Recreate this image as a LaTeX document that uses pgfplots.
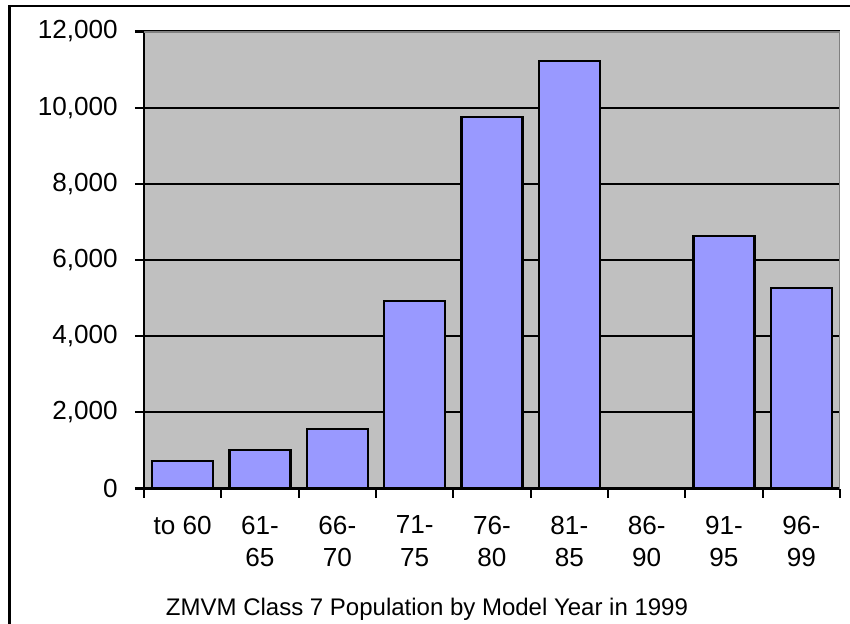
\documentclass[border=0pt]{standalone}
\usepackage{pgfplots}
\pgfplotsset{compat=1.18}
\usepackage{fontspec}
\setmainfont{Liberation Sans}
\definecolor{plotbg}{RGB}{192,192,192}
\definecolor{barfill}{RGB}{153,153,255}
\definecolor{framegray}{RGB}{128,128,128}

\begin{document}
\begin{tikzpicture}
\path[use as bounding box] (0,0) rectangle (637.5pt,-468pt);
% chart frame (only its left and top edges fall inside the page)
\draw[line width=2pt] (7.3pt,-500pt) -- (7.3pt,-4.4pt) -- (660pt,-4.4pt);
\begin{axis}[
  at={(108pt,-366.4pt)}, anchor=south west,
  scale only axis, width=522pt, height=342.75pt,
  xmin=-0.5, xmax=8.5, ymin=0, ymax=12000,
  axis background/.style={fill=plotbg},
  axis x line*=bottom, axis y line*=left,
  axis line style={-, black, line width=1.6pt},
  ytick={0,2000,...,12000},
  ymajorgrids, major grid style={black, line width=1.6pt},
  scaled y ticks=false,
  /pgf/number format/.cd, 1000 sep={,}, assume math mode=true,
  /pgfplots/.cd,
  xtick={0,...,8},
  xticklabels={to 60, 61-\\65, 66-\\70, 71-\\75, 76-\\80, 81-\\85, 86-\\90, 91-\\95, 96-\\99},
  minor xtick={-0.5,0.5,...,8.5},
  major x tick style={draw=none},
  tick align=outside,
  major tick length=6.75pt, minor tick length=6.75pt,
  tick style={black, line width=1.6pt},
  yticklabel style={font=\fontsize{19.6}{22}\selectfont, anchor=east, inner sep=0pt, xshift=-12.75pt},
  xticklabel style={font=\fontsize{19.6}{24.2}\selectfont, align=center, anchor=north, inner sep=0pt, yshift=-13.5pt},
  ybar, bar width=0.79, bar shift=0pt,
]
\addplot[fill=barfill, draw=black, line width=1.6pt] coordinates {
  (0,730) (1,1010) (2,1570) (3,4930) (4,9760) (5,11230) (6,0) (7,6630) (8,5270)
};
\draw[framegray, line width=2pt] (rel axis cs:0,1) -- (rel axis cs:1,1) -- (rel axis cs:1,0);
\end{axis}
\node[anchor=base, font=\fontsize{18}{20}\selectfont] at (320.25pt,-461.25pt) {ZMVM Class 7 Population by Model Year in 1999};
\end{tikzpicture}
\end{document}
